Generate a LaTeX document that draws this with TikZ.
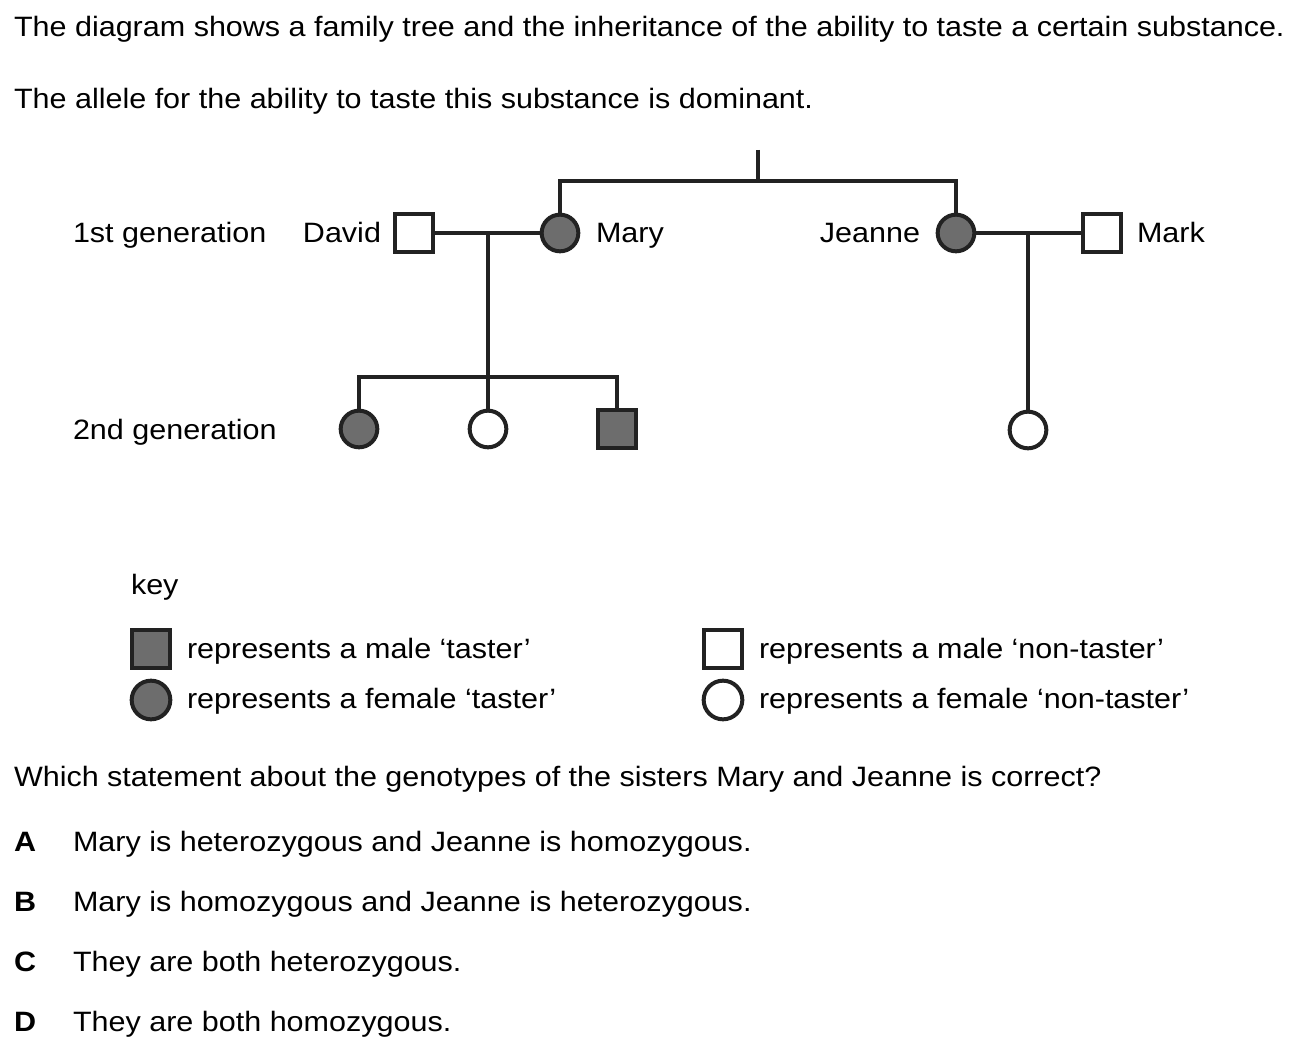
\documentclass[tikz,border=0pt]{standalone}
\usepackage{fontspec}
\setmainfont{Liberation Sans}[FakeStretch=1.09]
\definecolor{ink}{HTML}{222222}
\definecolor{taster}{HTML}{6D6D6D}
\begin{document}
\begin{tikzpicture}[x=0.75pt,y=-0.75pt,
  every node/.style={inner sep=0pt,outer sep=0pt},
  txt/.style={anchor=base west,font=\fontsize{21}{25}\selectfont,text=black},
  txtr/.style={anchor=base east,font=\fontsize{21}{25}\selectfont,text=black},
  lbl/.style={anchor=base west,font=\fontsize{21}{25}\selectfont\bfseries,text=black},
  link/.style={draw=ink,line width=3pt},
  male/.style={rectangle,draw=ink,line width=3pt,minimum size=28.5pt,fill=white},
  female/.style={circle,draw=ink,line width=3pt,minimum size=27.5pt,fill=white},
  aff/.style={fill=taster}]
\useasboundingbox (0,0) rectangle (1293,1045);
\fill[white] (0,0) rectangle (1293,1045);

% header text
\node[txt] (t1) at (14,37) {The diagram shows a family tree and the inheritance of the ability to taste a certain substance.};
\node[txt] (t2) at (14,109) {The allele for the ability to taste this substance is dominant.};

% pedigree
\node[male] (david) at (414,233) {};
\node[female,aff] (mary) at (560,233) {};
\node[female,aff] (jeanne) at (956,233) {};
\node[male] (mark) at (1102,233) {};
\node[female,aff] (c1) at (359,429) {};
\node[female] (c2) at (488,429) {};
\node[male,aff] (c3) at (617,429) {};
\node[female] (c4) at (1028,430) {};

\coordinate (top) at (758,150);
\coordinate (bar) at (758,181);
\coordinate (dm) at (488,233);
\coordinate (sib) at (488,377);
\coordinate (jm) at (1028,233);

\draw[link] (top) -- (bar);
\draw[link] (mary.north) -- (mary.north |- bar) -- (jeanne.north |- bar) -- (jeanne.north);
\draw[link] (david.east) -- (mary.west);
\draw[link] (jeanne.east) -- (mark.west);
\draw[link] (dm) -- (c2.north);
\draw[link] (c1.north) -- (c1.north |- sib) -- (c3.north |- sib) -- (c3.north);
\draw[link] (jm) -- (c4.north);

% labels
\node[txt] (g1) at (73,243) {1st generation};
\node[txt] (g2) at (73,439) {2nd generation};
\node[txtr] (ldavid) at (381,243) {David};
\node[txt] (lmary) at (596,243) {Mary};
\node[txtr] (ljeanne) at (920,243) {Jeanne};
\node[txt] (lmark) at (1137,243) {Mark};

% key
\node[txt] (key) at (131,594) {key};
\node[male,aff] (k1) at (151,649) {};
\node[female,aff,minimum size=29pt] (k2) at (151,700) {};
\node[male] (k3) at (723,649) {};
\node[female,minimum size=29pt] (k4) at (723,700) {};
\node[txt] (kt1) at (187,658) {represents a male ‘taster’};
\node[txt] (kt2) at (187,708) {represents a female ‘taster’};
\node[txt] (kt3) at (759,658) {represents a male ‘non-taster’};
\node[txt] (kt4) at (759,708) {represents a female ‘non-taster’};

% question
\node[txt] (q) at (14,786) {Which statement about the genotypes of the sisters Mary and Jeanne is correct?};
\node[lbl] (la) at (14,851) {A};
\node[txt] (oa) at (73,851) {Mary is heterozygous and Jeanne is homozygous.};
\node[lbl] (lb) at (14,911) {B};
\node[txt] (ob) at (73,911) {Mary is homozygous and Jeanne is heterozygous.};
\node[lbl] (lc) at (14,971) {C};
\node[txt] (oc) at (73,971) {They are both heterozygous.};
\node[lbl] (ld) at (14,1031) {D};
\node[txt] (od) at (73,1031) {They are both homozygous.};
\end{tikzpicture}
\end{document}
